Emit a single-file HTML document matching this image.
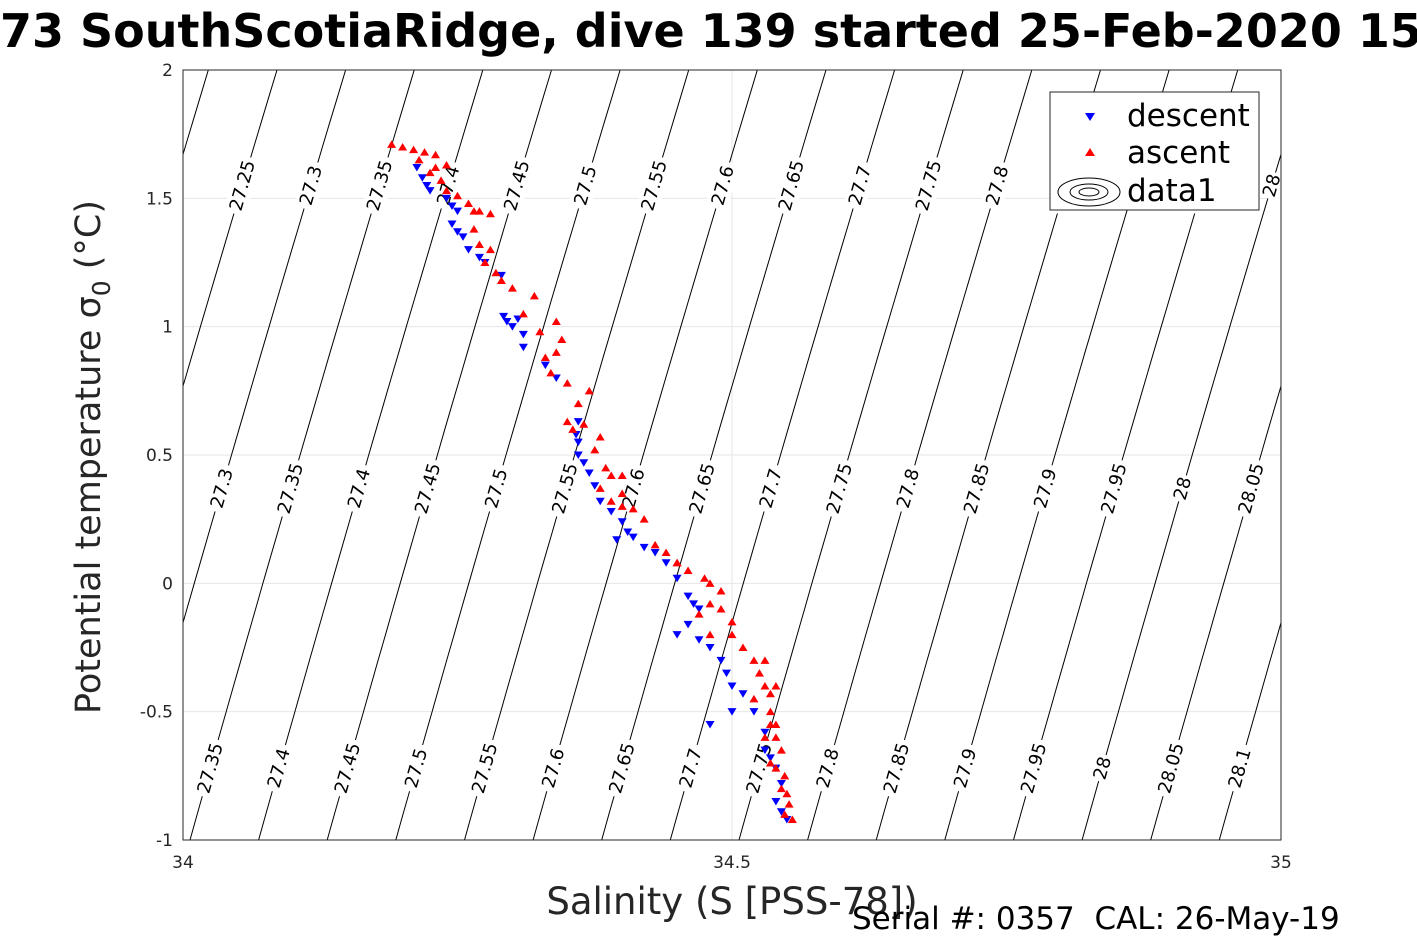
<!DOCTYPE html>
<html><head><meta charset="utf-8"><style>
body{margin:0;background:#fff;}
svg{display:block;font-family:"DejaVu Sans","Liberation Sans",sans-serif;}
</style></head><body>
<svg id="chart" width="1417" height="945" viewBox="0 0 1417 945" xmlns="http://www.w3.org/2000/svg">
<defs><clipPath id="plotclip"><rect x="183" y="70" width="1098" height="770"/></clipPath></defs>
<rect x="0" y="0" width="1417" height="945" fill="#fff"/>
<text id="title" x="0" y="47" font-size="46" font-weight="bold"><tspan id="tpre">SG5</tspan>73 SouthScotiaRidge, dive 139 started 25-Feb-2020 15:08</text>
<g id="grid"></g>
<g id="contours" clip-path="url(#plotclip)"></g>
<g id="labels" clip-path="url(#plotclip)"></g>
<g id="points" clip-path="url(#plotclip)"></g>
<rect x="183" y="70" width="1098" height="770" fill="none" stroke="#262626" stroke-width="1"/>
<g id="ticks"></g>
<text x="732" y="914" font-size="37" fill="#262626" text-anchor="middle">Salinity (S [PSS-78])</text>
<text transform="translate(100,457) rotate(-90)" font-size="35" fill="#262626" text-anchor="middle">Potential temperature σ<tspan font-size="25" dy="10">0</tspan><tspan dy="-10"> (°C)</tspan></text>
<text x="852" y="929" font-size="31" style="white-space:pre">Serial #: 0357  CAL: 26-May-19</text>
<g>
<rect x="1050" y="92" width="209" height="118" fill="#fff" stroke="#262626" stroke-width="1"/>
<polygon points="1085,113 1095,113 1090,121" fill="#0000ff"/>
<text x="1127" y="126" font-size="31">descent</text>
<polygon points="1085,156 1095,156 1090,148" fill="#ff0000"/>
<text x="1127" y="163" font-size="31">ascent</text>
<g fill="none" stroke="#000" stroke-width="1">
<ellipse cx="1089" cy="192" rx="31" ry="14"/><ellipse cx="1089" cy="192" rx="19" ry="8"/><ellipse cx="1089" cy="192" rx="10" ry="4"/></g>
<text x="1127" y="201" font-size="31">data1</text>
</g>
</svg>
<script>
const xTicks=[34,34.5,35];
const xTickLabels=["34","34.5","35"];
const yTicks=[-1,-0.5,0,0.5,1,1.5,2];
const yTickLabels=["-1","-0.5","0","0.5","1","1.5","2"];
const contourLevels=[27.0,27.05,27.1,27.15,27.2,27.25,27.3,27.35,27.4,27.45,27.5,27.55,27.6,27.65,27.7,27.75,27.8,27.85,27.9,27.95,28.0,28.05,28.1,28.15,28.2,28.25,28.3];
const labelRowT=[1.55,0.37,-0.72];
const descentS=[34.213,34.218,34.222,34.225,34.24,34.245,34.25,34.245,34.25,34.255,34.26,34.27,34.275,34.29,34.292,34.295,34.30,34.305,34.31,34.31,34.33,34.34,34.36,34.358,34.36,34.36,34.365,34.37,34.375,34.38,34.39,34.40,34.395,34.405,34.41,34.42,34.43,34.44,34.45,34.46,34.465,34.47,34.46,34.45,34.47,34.48,34.49,34.495,34.50,34.51,34.50,34.48,34.52,34.53,34.53,34.535,34.54,34.545,34.54,34.545,34.55];
const descentT=[1.62,1.58,1.55,1.53,1.50,1.47,1.45,1.40,1.37,1.35,1.30,1.27,1.25,1.20,1.04,1.02,1.00,1.03,0.97,0.92,0.85,0.80,0.63,0.58,0.55,0.50,0.47,0.43,0.38,0.32,0.28,0.24,0.17,0.20,0.18,0.14,0.12,0.08,0.02,-0.05,-0.08,-0.10,-0.16,-0.20,-0.22,-0.25,-0.30,-0.35,-0.40,-0.43,-0.50,-0.55,-0.50,-0.58,-0.65,-0.68,-0.72,-0.78,-0.85,-0.89,-0.92];
const ascentS=[34.19,34.20,34.21,34.22,34.23,34.215,34.23,34.24,34.225,34.235,34.24,34.25,34.26,34.265,34.27,34.28,34.265,34.27,34.28,34.275,34.285,34.29,34.30,34.32,34.31,34.325,34.34,34.345,34.34,34.33,34.335,34.35,34.36,34.37,34.35,34.355,34.365,34.38,34.375,34.385,34.39,34.38,34.40,34.39,34.40,34.41,34.42,34.40,34.43,34.44,34.45,34.46,34.475,34.48,34.49,34.48,34.49,34.47,34.50,34.45,34.48,34.50,34.51,34.52,34.53,34.525,34.53,34.52,34.535,34.535,34.54,34.53,34.54,34.545,34.535,34.54,34.548,34.545,34.55,34.552,34.548,34.555,34.535,34.54];
const ascentT=[1.71,1.70,1.69,1.68,1.67,1.65,1.62,1.63,1.60,1.57,1.53,1.51,1.48,1.45,1.45,1.44,1.38,1.32,1.30,1.25,1.21,1.18,1.15,1.12,1.05,0.98,1.02,0.95,0.90,0.88,0.82,0.78,0.70,0.75,0.63,0.60,0.62,0.57,0.52,0.45,0.42,0.37,0.35,0.32,0.30,0.29,0.25,0.42,0.15,0.12,0.08,0.05,0.02,0.00,-0.03,-0.08,-0.10,-0.12,-0.15,0.08,-0.20,-0.20,-0.25,-0.30,-0.30,-0.35,-0.40,-0.45,-0.43,-0.50,-0.55,-0.60,-0.60,-0.65,-0.70,-0.72,-0.75,-0.80,-0.82,-0.86,-0.90,-0.92,-0.55,-0.40];

const NS="http://www.w3.org/2000/svg";
const X0=183,X1=1281,Y0=840,Y1=70;
function xs(s){return X0+(s-34)*(X1-X0);}
function ys(t){return Y0-(t+1)/3*(Y0-Y1);}
function sOn(level,t){return 34.207+0.066*(t+0.8)+0.0008*(t+0.8)*(t+0.8)+(level-27.5)/0.8;}
function mk(tag,attrs,parent){const e=document.createElementNS(NS,tag);for(const k in attrs)e.setAttribute(k,attrs[k]);parent.appendChild(e);return e;}

const pre=document.getElementById('tpre');
document.getElementById('title').setAttribute('x',(-pre.getComputedTextLength()).toFixed(1));

const grid=document.getElementById('grid'),ticks=document.getElementById('ticks');
xTicks.forEach((v,i)=>{
  const l=mk('line',{x1:xs(v),x2:xs(v),y1:Y1,y2:Y0,stroke:'#e6e6e6'},grid);
  
  
  const t=mk('text',{x:xs(v),y:868,'font-size':17,'text-anchor':'middle',fill:'#262626'},ticks);
  t.textContent=xTickLabels[i];
  
  
});
yTicks.forEach((v,i)=>{
  const l=mk('line',{x1:X0,x2:X1,y1:ys(v),y2:ys(v),stroke:'#e6e6e6'},grid);
  
  
  const t=mk('text',{x:173,y:ys(v)+6,'font-size':17,'text-anchor':'end',fill:'#262626'},ticks);
  t.textContent=yTickLabels[i];
  
  
});
const cg=document.getElementById('contours'),lg=document.getElementById('labels');
contourLevels.forEach(lv=>{
  let pts=[];
  for(let t=-1.1;t<=2.1;t+=0.1)pts.push(xs(sOn(lv,t)).toFixed(1)+','+ys(t).toFixed(1));
  const p=mk('polyline',{points:pts.join(' '),fill:'none',stroke:'#000','stroke-width':1},cg);
  
  
  labelRowT.forEach(rt=>{
    const x=xs(sOn(lv,rt)),y=ys(rt);
    if(x<X0+8||x>X1-8)return;
    const g=mk('g',{transform:`translate(${x.toFixed(1)},${y.toFixed(1)}) rotate(-74)`},lg);
    
    
    const txt=(+lv.toFixed(2)).toString();
    const w=txt.length*10.5+6;
    mk('rect',{x:-w/2,y:-11,width:w,height:22,fill:'#fff'},g);
    const t=mk('text',{x:0,y:6,'font-size':18,'text-anchor':'middle'},g);
    t.textContent=txt;
  });
});
const pg=document.getElementById('points');
descentS.forEach((s,i)=>{
  const x=xs(s),y=ys(descentT[i]);
  const p=mk('polygon',{points:`${x-4.5},${y-3.5} ${x+4.5},${y-3.5} ${x},${y+4}`,fill:'#0000ff'},pg);
  
  
});
ascentS.forEach((s,i)=>{
  const x=xs(s),y=ys(ascentT[i]);
  const p=mk('polygon',{points:`${x-4.5},${y+3.5} ${x+4.5},${y+3.5} ${x},${y-4}`,fill:'#ff0000'},pg);
  
  
});
</script>
</body></html>
